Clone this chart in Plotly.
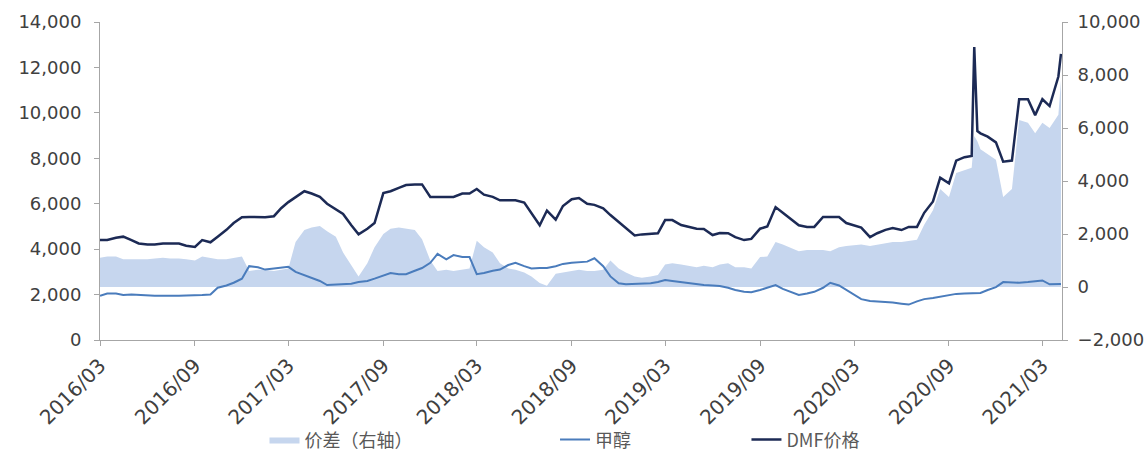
import pandas as pd
import plotly.graph_objects as go

# semi-monthly observation dates plus a few extra points
base_dates = list(pd.date_range("2016-03-01", "2021-04-01", freq="SMS").strftime("%Y-%m-%d"))
extra_dates = ["2020-10-20", "2020-10-26", "2021-04-06"]

dmf_base = [
    4400, 4400, 4500, 4550, 4400, 4250, 4200, 4200, 4250, 4250,
    4250, 4150, 4100, 4400, 4300, 4550, 4850, 5150, 5400, 5420,
    5400, 5400, 5450, 5800, 6070, 6300, 6550, 6450, 6300, 6000,
    5750, 5550, 5050, 4650, 4900, 5150, 6470, 6550, 6700, 6820,
    6850, 6850, 6300, 6300, 6300, 6300, 6450, 6450, 6650, 6400,
    6300, 6150, 6150, 6150, 6050, 5600, 5050, 5700, 5300, 5900,
    6200, 6250, 6000, 5950, 5800, 5500, 5200, 4950, 4600, 4650,
    4670, 4700, 5280, 5280, 5060, 5000, 4900, 4890, 4620, 4710,
    4700, 4530, 4400, 4450, 4900, 5000, 5850, 5600, 5300, 5050,
    4980, 4980, 5415, 5415, 5415, 5150, 5050, 4950, 4530, 4700,
    4850, 4930, 4840, 4980, 4980, 5600, 6100, 7150, 6900, 7900,
    8050, 8100, 9100, 8950, 8700, 7850, 7900, 10600, 10600, 9900,
    10600, 10300, 11600,
]
dmf_extra = [12900, 9200, 12600]

methanol_base = [
    1950, 2050, 2050, 1980, 2000, 1980, 1960, 1950, 1950, 1940,
    1950, 1960, 1960, 1980, 2000, 2300, 2400, 2520, 2700, 3250,
    3200, 3100, 3150, 3200, 3220, 3000, 2850, 2730, 2600, 2420,
    2450, 2470, 2480, 2550, 2600, 2700, 2850, 2950, 2900, 2900,
    3050, 3170, 3400, 3790, 3550, 3740, 3650, 3650, 2900, 2950,
    3050, 3100, 3300, 3400, 3250, 3150, 3170, 3170, 3250, 3350,
    3400, 3430, 3450, 3600, 3250, 2800, 2500, 2450, 2470, 2470,
    2500, 2550, 2640, 2600, 2550, 2500, 2450, 2420, 2400, 2380,
    2300, 2200, 2120, 2100, 2200, 2300, 2420, 2250, 2100, 1980,
    2050, 2120, 2300, 2520, 2400, 2200, 2000, 1800, 1720, 1700,
    1680, 1650, 1600, 1560, 1700, 1800, 1850, 1900, 1950, 2030,
    2050, 2060, 2070, 2200, 2330, 2550, 2520, 2520, 2550, 2600,
    2620, 2450, 2450,
]
methanol_extra = [2060, 2070, 2470]

spread_base = [
    1100, 1150, 1150, 1050, 1050, 1050, 1050, 1080, 1100, 1080,
    1080, 1050, 1000, 1150, 1100, 1050, 1050, 1100, 1150, 600,
    650, 650, 600, 650, 700, 1700, 2150, 2250, 2300, 2100,
    1900, 1300, 800, 400, 900, 1500, 2000, 2200, 2250, 2200,
    2150, 1800, 1000, 600, 650, 600, 650, 700, 1750, 1500,
    1300, 900, 700, 650, 550, 400, 150, 50, 500, 550,
    600, 650, 600, 600, 650, 1000, 700, 550, 400, 350,
    400, 450, 850, 900, 850, 800, 750, 800, 750, 850,
    900, 750, 750, 700, 1130, 1150, 1700, 1600, 1450, 1350,
    1400, 1400, 1400, 1350, 1500, 1550, 1580, 1600, 1550, 1600,
    1650, 1700, 1700, 1750, 1780, 2350, 2900, 3700, 3400, 4300,
    4400, 4500, 5200, 5000, 4800, 3400, 3700, 6300, 6200, 5800,
    6200, 6000, 6500,
]
spread_extra = [5700, 5500, 7800]

tick_vals = ["2016-03-01", "2016-09-01", "2017-03-01", "2017-09-01", "2018-03-01",
             "2018-09-01", "2019-03-01", "2019-09-01", "2020-03-01", "2020-09-01",
             "2021-03-01"]
tick_text = ["2016/03", "2016/09", "2017/03", "2017/09", "2018/03", "2018/09",
             "2019/03", "2019/09", "2020/03", "2020/09", "2021/03"]

df = pd.DataFrame({
    "date": pd.to_datetime(base_dates + extra_dates),
    "dmf": dmf_base + dmf_extra,
    "methanol": methanol_base + methanol_extra,
    "spread": spread_base + spread_extra,
}).sort_values("date")

FONT = "DejaVu Sans"
CJK = "Noto Sans CJK SC"
TXT = "#404040"
AX = "#A6A6A6"

fig = go.Figure()
fig.add_trace(go.Scatter(
    x=df["date"], y=df["spread"], yaxis="y", mode="lines",
    fill="tozeroy", fillcolor="#C6D6EE", line=dict(width=0, color="#C6D6EE"),
    name="价差（右轴）", legend="legend", showlegend=True,
))
fig.add_trace(go.Scatter(
    x=df["date"], y=df["methanol"], yaxis="y2", mode="lines",
    line=dict(color="#4A7CBC", width=2), name="甲醇", legend="legend2", showlegend=True,
))
fig.add_trace(go.Scatter(
    x=df["date"], y=df["dmf"], yaxis="y2", mode="lines",
    line=dict(color="#1C2A55", width=2.5), name="DMF价格", legend="legend3", showlegend=True,
))

leg_common = dict(orientation="h", yanchor="middle", y=-0.314, xanchor="left",
                  font=dict(family=CJK, size=18, color="#595959"),
                  bgcolor="rgba(0,0,0,0)", visible=True)

fig.update_layout(
    width=1148, height=459,
    showlegend=True,
    margin=dict(l=100, r=86, t=22, b=119, autoexpand=False),
    paper_bgcolor="white", plot_bgcolor="white",
    font=dict(family=FONT, size=18, color=TXT),
    xaxis=dict(
        type="date", range=["2016-03-01", "2021-04-08"],
        tickvals=tick_vals, ticktext=tick_text, tickangle=-45,
        tickfont=dict(family=FONT, size=20, color=TXT),
        showgrid=False, zeroline=False, showline=True, linecolor=AX, linewidth=1,
        ticks="outside", ticklen=5, tickcolor=AX,
    ),
    yaxis=dict(
        side="right", range=[-2000, 10000], dtick=2000, tickformat=",",
        showgrid=False, zeroline=False, showline=True, linecolor=AX, linewidth=1,
        ticks="outside", ticklen=5, tickcolor=AX, ticklabelstandoff=6,
        tickfont=dict(family=FONT, size=18, color=TXT),
    ),
    yaxis2=dict(
        overlaying="y", side="left", range=[0, 14000], dtick=2000, tickformat=",",
        showgrid=False, zeroline=False, showline=True, linecolor=AX, linewidth=1,
        ticks="outside", ticklen=5, tickcolor=AX, ticklabelstandoff=9,
        tickfont=dict(family=FONT, size=18, color=TXT),
    ),
    legend=dict(x=0.171, **leg_common),
    legend2=dict(x=0.473, **leg_common),
    legend3=dict(x=0.672, **leg_common),
)

fig.write_html("out.html")
